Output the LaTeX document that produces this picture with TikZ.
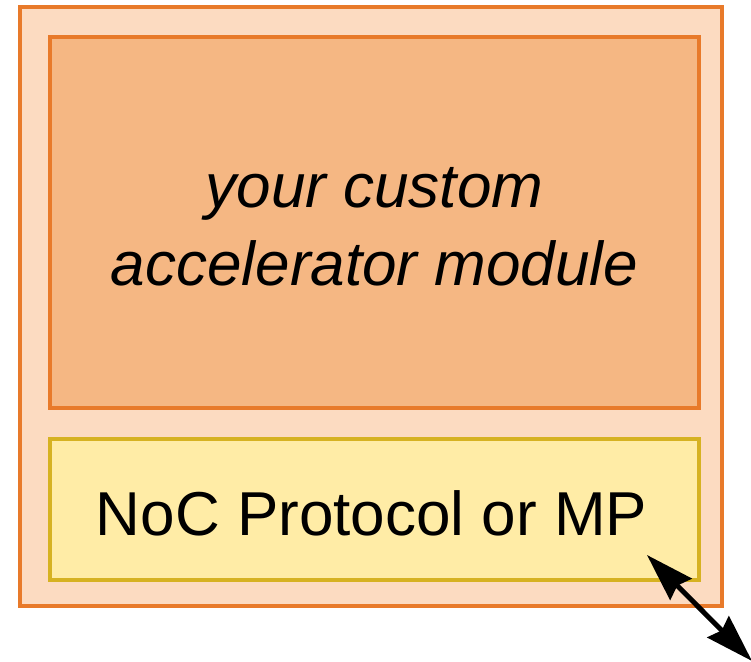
\documentclass[tikz,border=0pt]{standalone}
\usepackage{fontspec}
\setmainfont{Liberation Sans}
\usetikzlibrary{arrows.meta}
\definecolor{shellfill}{RGB}{252,219,193}
\definecolor{shelldraw}{RGB}{232,122,42}
\definecolor{accfill}{RGB}{245,183,131}
\definecolor{nocfill}{RGB}{255,236,166}
\definecolor{nocdraw}{RGB}{214,178,34}
\tikzset{
  block/.style={rectangle, inner sep=0pt, outer sep=0pt, line width=3.5pt},
  link/.style={line width=5pt, {Stealth[length=48pt,width=30pt,inset=5pt]}-{Stealth[length=48pt,width=30pt,inset=5pt]}},
}
\begin{document}
\begin{tikzpicture}[x=1pt,y=-1pt]
  \useasboundingbox (0,0) rectangle (751,661);
  % tile shell
  \node[block, draw=shelldraw, fill=shellfill, line width=4pt,
        minimum width=702pt, minimum height=598.5pt] (tile) at (371,306.75) {};
  % accelerator
  \node[block, draw=shelldraw, fill=accfill,
        minimum width=649pt, minimum height=371pt,
        font=\fontsize{62}{78}\selectfont\itshape, align=center,
        text height=125pt, text depth=0pt] (acc) at (374.5,222.5)
        {your custom\\accelerator module};
  % network interface
  \node[block, draw=nocdraw, fill=nocfill,
        minimum width=649pt, minimum height=141pt,
        font=\fontsize{62}{74}\selectfont,
        text height=51pt, text depth=0pt] (noc) at (374.5,509.5)
        {\hspace*{-6pt}NoC Protocol or MP};
  \coordinate (port) at (647,555);
  \coordinate (net) at (752,661);
  \draw[link] (port) -- (net);
\end{tikzpicture}
\end{document}
